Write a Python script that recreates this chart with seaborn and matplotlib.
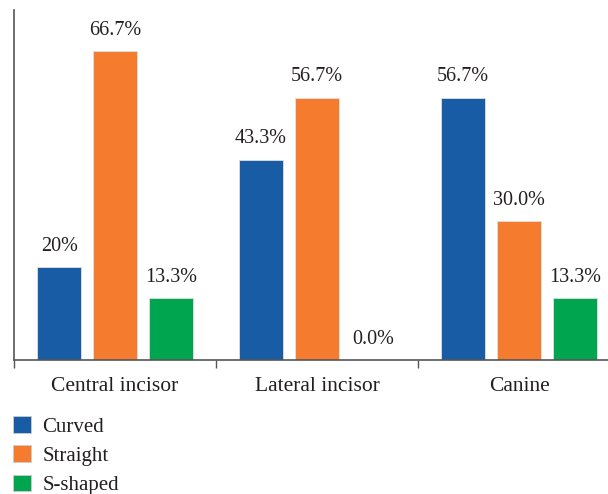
import matplotlib
matplotlib.use("Agg")
import matplotlib.pyplot as plt
import seaborn as sns
import pandas as pd
from matplotlib.patches import Patch

categories = ["Central incisor", "Lateral incisor", "Canine"]
series = ["Curved", "Straight", "S-shaped"]
curved = [20.0, 43.3, 56.7]
straight = [66.7, 56.7, 30.0]
s_shaped = [13.3, 0.0, 13.3]
labels = {
    "Curved": ["20%", "43.3%", "56.7%"],
    "Straight": ["66.7%", "56.7%", "30.0%"],
    "S-shaped": ["13.3%", "0.0%", "13.3%"],
}
colors = ["#175ca5", "#f57b2f", "#00a550"]

rows = []
for s, vals in zip(series, [curved, straight, s_shaped]):
    for c, v in zip(categories, vals):
        rows.append({"cat": c, "series": s, "value": v})
df = pd.DataFrame(rows)

sns.set_style("white")
plt.rcParams["font.family"] = ["Liberation Serif", "DejaVu Serif"]

fig = plt.figure(figsize=(6.08, 4.94), dpi=100)
ax = fig.add_axes([14/608, 1 - 360/494, 1 - 14/608, 350/494])

sns.barplot(data=df, x="cat", y="value", hue="series", hue_order=series,
            order=categories, palette=colors, saturation=1, width=0.83, gap=0.2,
            edgecolor="#e0e0e0", linewidth=0.6, legend=False, ax=ax, errorbar=None)

for cont, s in zip(ax.containers, series):
    ax.bar_label(cont, labels=labels[s], padding=8, fontsize=14.5, color="#231f20")

ax.set_ylim(0, 75.6)
ax.set_xlim(-0.5, (608 - 14) / 202 - 0.5)
ax.set_xlabel("")
ax.set_ylabel("")
ax.set_yticks([])
ax.set_xticks([0, 1, 2])
ax.set_xticklabels(categories, fontsize=15.5, color="#231f20")
ax.set_xticks([-0.5, 0.5, 1.5], minor=True)
ax.tick_params(axis="x", which="major", length=0, pad=12)
ax.tick_params(axis="x", which="minor", length=6, width=1, color="#555555", direction="out", bottom=True)
for side in ["top", "right"]:
    ax.spines[side].set_visible(False)
for side in ["left", "bottom"]:
    ax.spines[side].set_color("#555555")
    ax.spines[side].set_linewidth(1.2)

handles = [Patch(facecolor=c, edgecolor="#cccccc", linewidth=0.6, label=s) for c, s in zip(colors, series)]
fig.legend(handles=handles, loc="upper left", bbox_to_anchor=(13/608, 1 - 416/494),
           frameon=False, fontsize=15, handlelength=0.85, handleheight=0.85,
           handletextpad=0.55, labelspacing=0.42, borderaxespad=0, borderpad=0.0,
           labelcolor="#231f20")

fig.savefig("out.png", dpi=100)
